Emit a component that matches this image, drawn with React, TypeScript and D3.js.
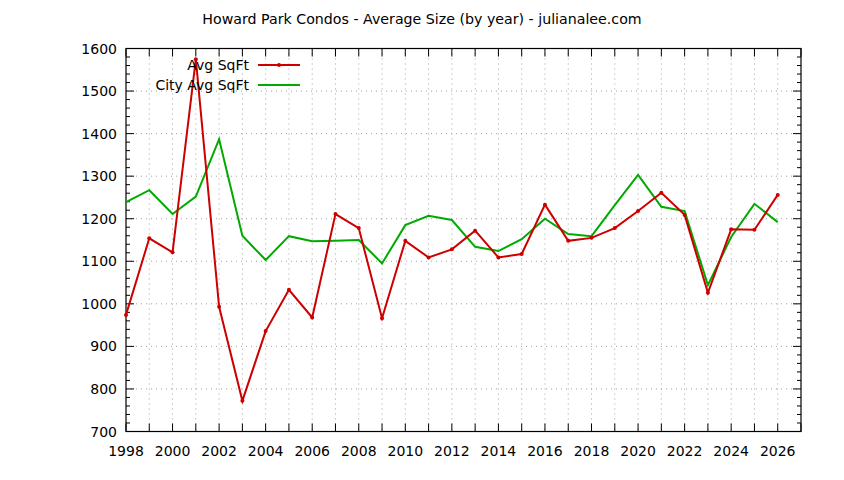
import * as React from 'react';
import * as d3 from 'd3';

const years: number[] = [
  1998, 1999, 2000, 2001, 2002, 2003, 2004, 2005, 2006, 2007,
  2008, 2009, 2010, 2011, 2012, 2013, 2014, 2015, 2016, 2017,
  2018, 2019, 2020, 2021, 2022, 2023, 2024, 2025, 2026,
];
const avgSqFt: number[] = [
  974, 1154, 1121, 1575, 993, 772, 936, 1033, 968, 1211,
  1178, 966, 1148, 1109, 1128, 1172, 1109, 1117, 1233, 1148,
  1155, 1178, 1218, 1261, 1209, 1026, 1175, 1174, 1256,
];
const cityAvgSqFt: number[] = [
  1239, 1267, 1211, 1252, 1387, 1160, 1103, 1159, 1147, 1148,
  1150, 1095, 1185, 1207, 1197, 1134, 1124, 1152, 1200, 1164,
  1159, 1232, 1303, 1228, 1218, 1044, 1157, 1235, 1192,
];
const yTicks: number[] = [700, 800, 900, 1000, 1100, 1200, 1300, 1400, 1500, 1600];
const xLabels: number[] = [1998, 2000, 2002, 2004, 2006, 2008, 2010, 2012, 2014, 2016, 2018, 2020, 2022, 2024, 2026];

const W = 844, H = 480;
const left = 126, right = 801, top = 48.5, bottom = 431.5;
const font = 'DejaVu Sans, sans-serif';
const red = '#cc0000';
const green = '#00aa00';

export default function App() {
  const x = d3.scaleLinear().domain([1998, 2027]).range([left, right]);
  const y = d3.scaleLinear().domain([700, 1600]).range([bottom, top]);

  const minorY = d3.range(700, 1601, 20);
  const allYears = d3.range(1998, 2028);

  const seriesLine = d3.line<number>()
    .x((_d, i) => x(years[i]))
    .y(d => y(d));

  return (
    <svg width={W} height={H} style={{ position: 'absolute', left: 0, top: 0, background: '#fff' }}
      fontFamily={font}>
      <rect x={0} y={0} width={W} height={H} fill="#fff" />
      {/* grid */}
      {allYears.slice(1, -1).map(yr => (
        <line key={'gx' + yr} x1={x(yr)} x2={x(yr)} y1={top} y2={bottom}
          stroke="#a0a0a0" strokeWidth={1} strokeDasharray="1,4" />
      ))}
      {yTicks.slice(1, -1).map(v => (
        <line key={'gy' + v} x1={left} x2={right} y1={y(v)} y2={y(v)}
          stroke="#a0a0a0" strokeWidth={1} strokeDasharray="1,4" />
      ))}
      {/* ticks */}
      {minorY.map(v => {
        const major = v % 100 === 0;
        const len = major ? 8 : 4;
        return (
          <g key={'ty' + v}>
            <line x1={left} x2={left + len} y1={y(v)} y2={y(v)} stroke="#000" />
            <line x1={right} x2={right - len} y1={y(v)} y2={y(v)} stroke="#000" />
          </g>
        );
      })}
      {allYears.map(yr => (
        <g key={'tx' + yr}>
          <line x1={x(yr)} x2={x(yr)} y1={bottom} y2={bottom - 8} stroke="#000" />
          <line x1={x(yr)} x2={x(yr)} y1={top} y2={top + 8} stroke="#000" />
        </g>
      ))}
      {/* border */}
      <rect x={left} y={top} width={right - left} height={bottom - top} fill="none" stroke="#000" strokeWidth={1.2} />
      {/* tick labels */}
      {yTicks.map(v => (
        <text key={'ly' + v} x={117} y={y(v) + 5} textAnchor="end" fontSize={14} fill="#000">{v}</text>
      ))}
      {xLabels.map(v => (
        <text key={'lx' + v} x={x(v)} y={456} textAnchor="middle" fontSize={14} fill="#000">{v}</text>
      ))}
      {/* series */}
      <path d={seriesLine(cityAvgSqFt) || ''} fill="none" stroke={green} strokeWidth={2} />
      <path d={seriesLine(avgSqFt) || ''} fill="none" stroke={red} strokeWidth={2} />
      {avgSqFt.map((v, i) => (
        <circle key={'p' + i} cx={x(years[i])} cy={y(v)} r={2} fill={red} />
      ))}
      {/* legend */}
      <text x={249} y={70} textAnchor="end" fontSize={14} fill="#000">Avg SqFt</text>
      <line x1={258} x2={300} y1={65} y2={65} stroke={red} strokeWidth={2} />
      <circle cx={279} cy={65} r={2} fill={red} />
      <text x={249} y={90} textAnchor="end" fontSize={14} fill="#000">City Avg SqFt</text>
      <line x1={258} x2={300} y1={85} y2={85} stroke={green} strokeWidth={2} />
      {/* title */}
      <text x={422} y={24} textAnchor="middle" fontSize={14.2} fill="#000">
        Howard Park Condos - Average Size (by year) - julianalee.com
      </text>
    </svg>
  );
}
